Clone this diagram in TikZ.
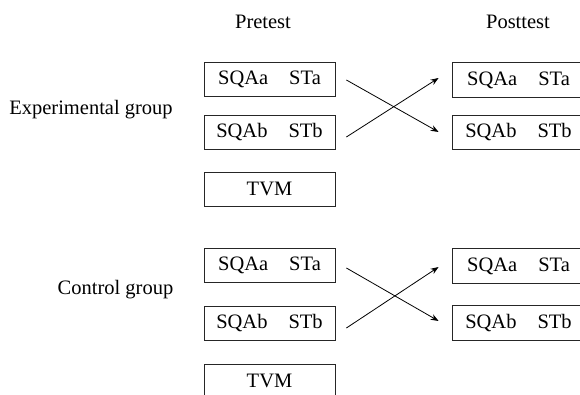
\documentclass[tikz,border=0pt]{standalone}
\usepackage{fontspec}
\setmainfont{Liberation Serif}
\usetikzlibrary{arrows.meta,calc}
\begin{document}
\begin{tikzpicture}[x=1pt,y=-1pt,
  box/.style={draw=black!85,line width=0.8pt,minimum width=131pt,minimum height=34pt,inner sep=0pt,font=\fontsize{20.5}{23}\selectfont},
  postbox/.style={box,draw=none,minimum width=131pt},
  edge3/.style={draw=black!85,line width=0.8pt},
  lbl/.style={font=\fontsize{20.5}{23}\selectfont,inner sep=0pt},
  arr/.style={line width=0.8pt,-{Stealth[length=8pt,width=6pt]}}]
\useasboundingbox (0,0) rectangle (580,395);
\node[lbl] (pre) at (263,22) {Pretest};
\node[lbl] (post) at (518,22) {Posttest};
\node[lbl] (eg) at (91,110) {Experimental group};
\node[lbl] (cg) at (115.5,290) {Control group};
% experimental
\node[box] (e1) at (269.5,79) {SQAa\hspace{21pt}STa};
\node[box] (e2) at (269.5,132.5) {SQAb\hspace{21pt}STb};
\node[box] (e3) at (269.5,189) {TVM};
\node[postbox] (f1) at (518.5,80) {SQAa\hspace{21pt}STa};
\node[postbox] (f2) at (518.5,132.5) {SQAb\hspace{21pt}STb};
% control
\node[box] (c1) at (269.5,265) {SQAa\hspace{21pt}STa};
\node[box] (c2) at (269.5,323) {SQAb\hspace{21pt}STb};
\node[box] (c3) at (269.5,381) {TVM};
\node[postbox] (d1) at (518.5,266) {SQAa\hspace{21pt}STa};
\node[postbox] (d2) at (518.5,323) {SQAb\hspace{21pt}STb};
% open-right post boxes (cut by the page edge)
\foreach \n in {f1,f2,d1,d2}{
  \draw[edge3] ($(\n.north east)+(20,0)$) -- (\n.north west) -- (\n.south west) -- ($(\n.south east)+(20,0)$);
}
% arrows
\draw[arr] ($(e1.east)+(11,1)$) -- ($(f2.west)+(-14,-0.5)$);
\draw[arr] ($(e2.east)+(11,4.5)$) -- ($(f1.west)+(-14,-2)$);
\draw[arr] ($(c1.east)+(11,3)$) -- ($(d2.west)+(-14,-2)$);
\draw[arr] ($(c2.east)+(11,5)$) -- ($(d1.west)+(-14,1)$);
\end{tikzpicture}
\end{document}
